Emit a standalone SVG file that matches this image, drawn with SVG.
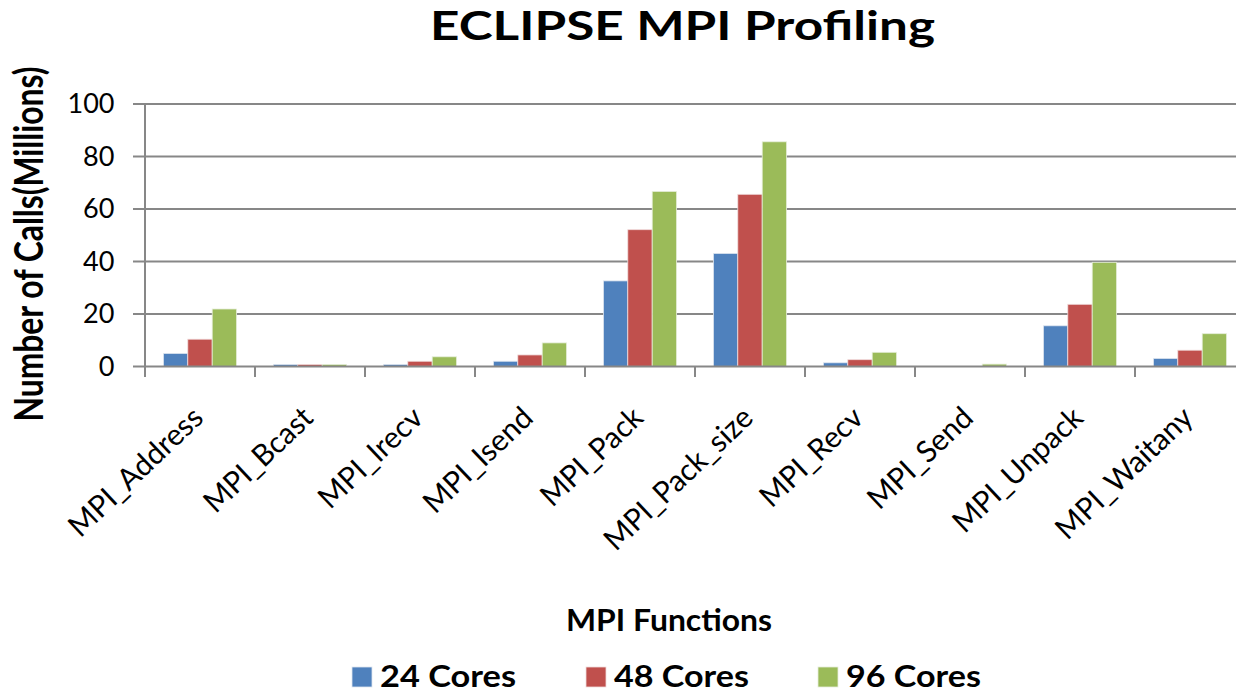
<svg xmlns="http://www.w3.org/2000/svg" width="1236" height="692" viewBox="0 0 1236 692">
<style>
.grid{stroke:#878787;stroke-width:2;fill:none}
.axis{stroke:#878787;stroke-width:2;fill:none}
.b24{fill:#4F81BD;stroke:#dfe6f0;stroke-width:0.8}
.b48{fill:#C0504D;stroke:#f0dcdc;stroke-width:0.8}
.b96{fill:#9BBB59;stroke:#e6eedb;stroke-width:0.8}
.tick{font-family:Lato,"Liberation Sans",sans-serif;font-size:27px;fill:#000;text-anchor:end}
.cat{font-family:Lato,"Liberation Sans",sans-serif;font-size:30px;fill:#000;text-anchor:end}
.bold{font-family:Lato,"Liberation Sans",sans-serif;font-weight:bold;fill:#000}
</style>
<rect width="1236" height="692" fill="#fff"/>
<g id="title"><text class="bold" x="430" y="40" font-size="40" textLength="505" lengthAdjust="spacingAndGlyphs">ECLIPSE MPI Profiling</text></g>
<g id="gridlines">
<line class="grid" x1="145" y1="104" x2="1236" y2="104"/>
<line class="grid" x1="145" y1="156.5" x2="1236" y2="156.5"/>
<line class="grid" x1="145" y1="209" x2="1236" y2="209"/>
<line class="grid" x1="145" y1="261.5" x2="1236" y2="261.5"/>
<line class="grid" x1="145" y1="314" x2="1236" y2="314"/>
</g>
<g id="series-24">
<rect class="b24" x="163.4" y="353.4" width="24.4" height="13.1"/>
<rect class="b24" x="273.4" y="364.4" width="24.4" height="2.1"/>
<rect class="b24" x="383.4" y="364.4" width="24.4" height="2.1"/>
<rect class="b24" x="493.4" y="361.25" width="24.4" height="5.25"/>
<rect class="b24" x="603.4" y="280.9" width="24.4" height="85.6"/>
<rect class="b24" x="713.4" y="253.4" width="24.4" height="113.1"/>
<rect class="b24" x="823.4" y="362.8" width="24.4" height="3.7"/>
<rect class="b24" x="1043.4" y="325.8" width="24.4" height="40.7"/>
<rect class="b24" x="1153.4" y="358.4" width="24.4" height="8.1"/>
</g>
<g id="series-48">
<rect class="b48" x="187.8" y="339.2" width="24.4" height="27.3"/>
<rect class="b48" x="297.8" y="364.4" width="24.4" height="2.1"/>
<rect class="b48" x="407.8" y="361.25" width="24.4" height="5.25"/>
<rect class="b48" x="517.8" y="354.95" width="24.4" height="11.55"/>
<rect class="b48" x="627.8" y="229.7" width="24.4" height="136.8"/>
<rect class="b48" x="737.8" y="194.3" width="24.4" height="172.2"/>
<rect class="b48" x="847.8" y="359.7" width="24.4" height="6.8"/>
<rect class="b48" x="1067.8" y="304.3" width="24.4" height="62.2"/>
<rect class="b48" x="1177.8" y="350.2" width="24.4" height="16.3"/>
</g>
<g id="series-96">
<rect class="b96" x="212.2" y="309" width="24.4" height="57.5"/>
<rect class="b96" x="322.2" y="364.4" width="24.4" height="2.1"/>
<rect class="b96" x="432.2" y="356.8" width="24.4" height="9.7"/>
<rect class="b96" x="542.2" y="342.9" width="24.4" height="23.6"/>
<rect class="b96" x="652.2" y="191.4" width="24.4" height="175.1"/>
<rect class="b96" x="762.2" y="141.8" width="24.4" height="224.7"/>
<rect class="b96" x="872.2" y="352.3" width="24.4" height="14.2"/>
<rect class="b96" x="982.2" y="364.1" width="24.4" height="2.4"/>
<rect class="b96" x="1092.2" y="262.3" width="24.4" height="104.2"/>
<rect class="b96" x="1202.2" y="333.7" width="24.4" height="32.8"/>
</g>
<g id="axes">
<line class="axis" x1="145" y1="104" x2="145" y2="377"/>
<line class="axis" x1="133" y1="366.5" x2="1236" y2="366.5"/>
<path class="axis" d="M133 104H145M133 156.5H145M133 209H145M133 261.5H145M133 314H145M255 366.5V377M365 366.5V377M475 366.5V377M585 366.5V377M695 366.5V377M805 366.5V377M915 366.5V377M1025 366.5V377M1135 366.5V377"/>
</g>
<g id="y-ticks">
<text class="tick" x="114.5" y="113" textLength="47" lengthAdjust="spacingAndGlyphs">100</text>
<text class="tick" x="114.5" y="165.5" textLength="31.4" lengthAdjust="spacingAndGlyphs">80</text>
<text class="tick" x="114.5" y="218" textLength="31.4" lengthAdjust="spacingAndGlyphs">60</text>
<text class="tick" x="114.5" y="270.5" textLength="31.4" lengthAdjust="spacingAndGlyphs">40</text>
<text class="tick" x="114.5" y="323" textLength="31.4" lengthAdjust="spacingAndGlyphs">20</text>
<text class="tick" x="114.5" y="375.5" textLength="15.7" lengthAdjust="spacingAndGlyphs">0</text>
</g>
<g id="y-title"><text class="bold" font-size="31" text-anchor="middle" textLength="355" lengthAdjust="spacingAndGlyphs" transform="translate(43,244) scale(1.3,1) rotate(-90)">Number of Calls(Millions)</text></g>
<g id="x-labels">
<text class="cat" transform="translate(205,420) rotate(-43.5)" textLength="172" lengthAdjust="spacingAndGlyphs">MPI_Address</text>
<text class="cat" transform="translate(315,420) rotate(-43.5)" textLength="137" lengthAdjust="spacingAndGlyphs">MPI_Bcast</text>
<text class="cat" transform="translate(425,420) rotate(-43.5)" textLength="131" lengthAdjust="spacingAndGlyphs">MPI_Irecv</text>
<text class="cat" transform="translate(535,420) rotate(-43.5)" textLength="138" lengthAdjust="spacingAndGlyphs">MPI_Isend</text>
<text class="cat" transform="translate(645,420) rotate(-43.5)" textLength="128" lengthAdjust="spacingAndGlyphs">MPI_Pack</text>
<text class="cat" transform="translate(755,420) rotate(-43.5)" textLength="192" lengthAdjust="spacingAndGlyphs">MPI_Pack_size</text>
<text class="cat" transform="translate(865,420) rotate(-43.5)" textLength="129" lengthAdjust="spacingAndGlyphs">MPI_Recv</text>
<text class="cat" transform="translate(975,420) rotate(-43.5)" textLength="132" lengthAdjust="spacingAndGlyphs">MPI_Send</text>
<text class="cat" transform="translate(1085,420) rotate(-43.5)" textLength="166" lengthAdjust="spacingAndGlyphs">MPI_Unpack</text>
<text class="cat" transform="translate(1195,420) rotate(-43.5)" textLength="176" lengthAdjust="spacingAndGlyphs">MPI_Waitany</text>
</g>
<g id="x-title"><text class="bold" x="566" y="631" font-size="30" textLength="206" lengthAdjust="spacingAndGlyphs">MPI Functions</text></g>
<g id="legend">
<rect class="b24" x="352" y="667" width="20" height="20"/>
<text class="bold" x="380" y="687" font-size="30" textLength="136" lengthAdjust="spacingAndGlyphs">24 Cores</text>
<rect class="b48" x="586" y="667" width="20" height="20"/>
<text class="bold" x="614" y="687" font-size="30" textLength="135" lengthAdjust="spacingAndGlyphs">48 Cores</text>
<rect class="b96" x="818" y="667" width="20" height="20"/>
<text class="bold" x="846" y="687" font-size="30" textLength="135" lengthAdjust="spacingAndGlyphs">96 Cores</text>
</g>
</svg>
